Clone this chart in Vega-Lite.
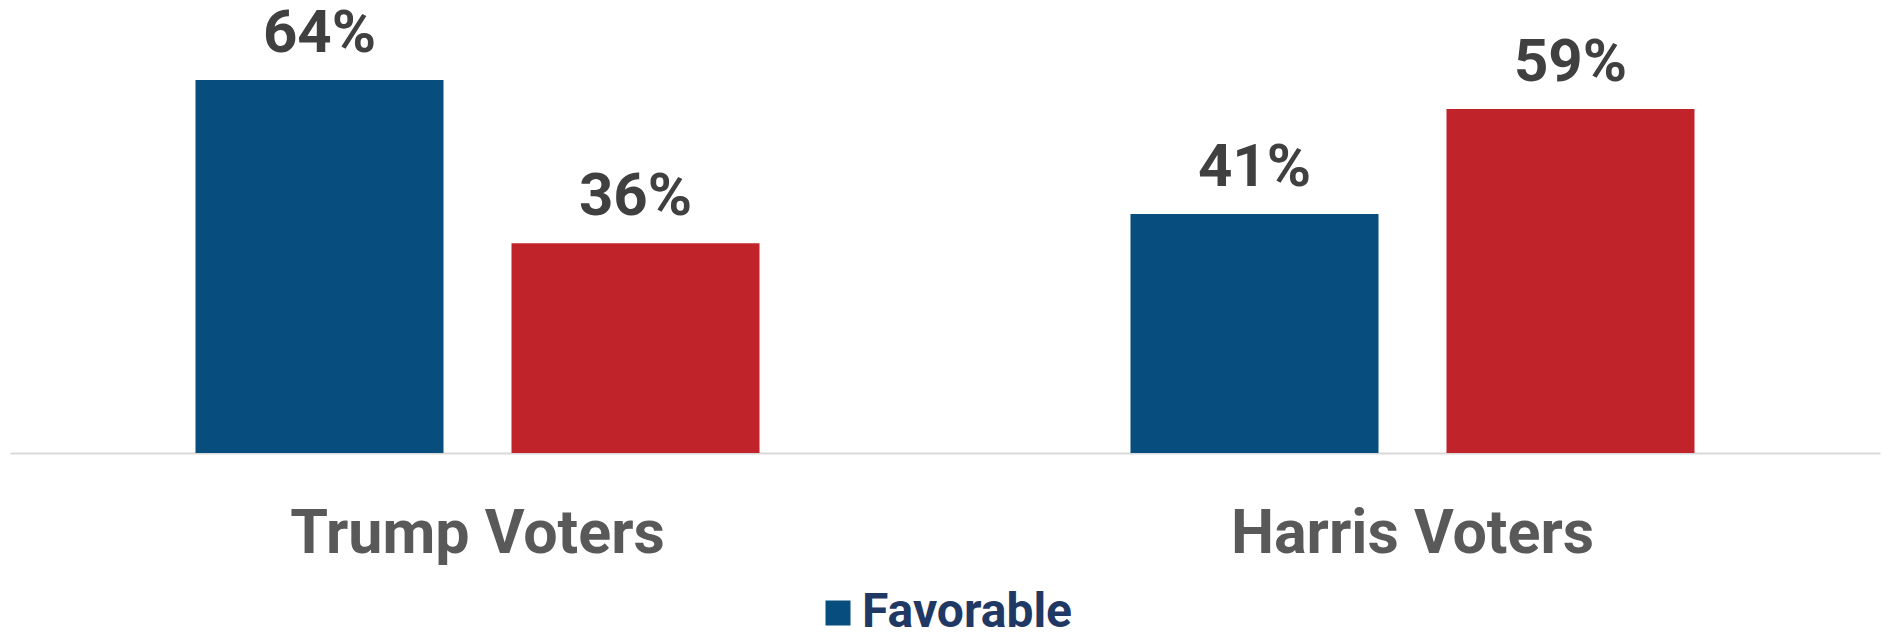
{
  "$schema": "https://vega.github.io/schema/vega-lite/v6.json",
  "width": 1870,
  "height": 408,
  "autosize": {"type": "none"},
  "padding": {"left": 10, "right": 10, "top": 45, "bottom": 182},
  "background": "white",
  "config": {"view": {"stroke": null}, "font": "Roboto"},
  "data": {
    "values": [
      {"group": "Trump Voters", "opinion": "Favorable", "value": 0.64},
      {"group": "Trump Voters", "opinion": "Unfavorable", "value": 0.36},
      {"group": "Harris Voters", "opinion": "Favorable", "value": 0.41},
      {"group": "Harris Voters", "opinion": "Unfavorable", "value": 0.59}
    ]
  },
  "encoding": {
    "x": {
      "field": "group",
      "type": "nominal",
      "sort": ["Trump Voters", "Harris Voters"],
      "scale": {"paddingInner": 0, "paddingOuter": 0},
      "axis": {
        "title": null,
        "labelAngle": 0,
        "labelFont": "Roboto",
        "labelFontWeight": "bold",
        "labelFontSize": 61,
        "labelColor": "#595959",
        "labelBaseline": "alphabetic",
        "labelPadding": 99,
        "labelLimit": 0,
        "ticks": false,
        "tickSize": 0,
        "domainColor": "#D9D9D9",
        "domainWidth": 2
      }
    },
    "xOffset": {
      "field": "opinion",
      "type": "nominal",
      "scale": {"paddingInner": 0.2152, "paddingOuter": 0.587}
    },
    "y": {
      "field": "value",
      "type": "quantitative",
      "scale": {"domain": [0, 0.7]},
      "axis": null
    }
  },
  "layer": [
    {
      "mark": {"type": "bar"},
      "encoding": {
        "color": {
          "field": "opinion",
          "type": "nominal",
          "scale": {"domain": ["Favorable", "Unfavorable"], "range": ["#074E7E", "#C1232A"]},
          "legend": {
            "title": null,
            "orient": "none",
            "direction": "vertical",
            "legendX": 804,
            "legendY": 544,
            "symbolType": "square",
            "symbolSize": 625,
            "symbolStrokeWidth": 0,
            "labelFont": "Roboto",
            "labelFontWeight": "bold",
            "labelFontSize": 48,
            "labelColor": "#1F3864",
            "labelOffset": 0,
            "labelLimit": 0,
            "rowPadding": 20
          }
        }
      }
    },
    {
      "mark": {
        "type": "text",
        "baseline": "alphabetic",
        "dy": -28,
        "font": "Roboto",
        "fontWeight": "bold",
        "fontSize": 60,
        "color": "#404040"
      },
      "encoding": {
        "text": {"field": "value", "type": "quantitative", "format": ".0%"}
      }
    }
  ]
}
